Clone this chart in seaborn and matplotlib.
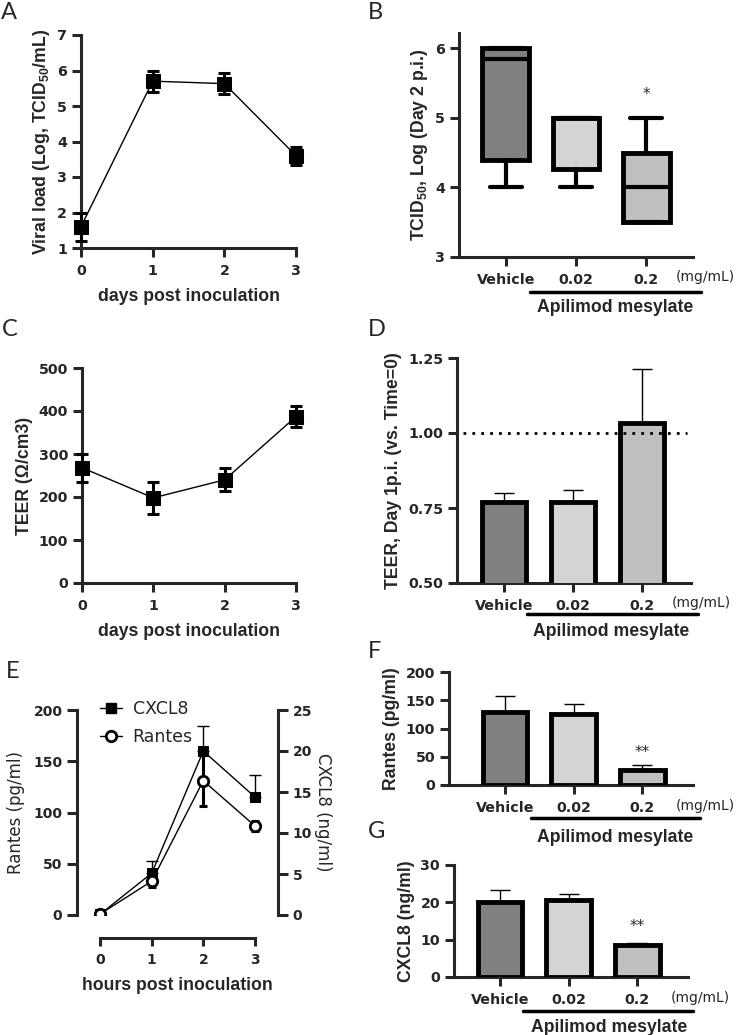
import numpy as np
import matplotlib
matplotlib.use("Agg")
import matplotlib.pyplot as plt
from matplotlib.lines import Line2D
import seaborn as sns

# values
days = [0, 1, 2, 3]
viral_load = [1.6, 5.7, 5.63, 3.6]
viral_sem = [0.4, 0.3, 0.3, 0.25]
teer = [268, 198, 240, 387]
teer_sem = [33, 37, 27, 25]

groups = ["Vehicle", "0.02", "0.2"]
group_colors = ["#808080", "#d4d4d4", "#c0c0c0"]

tcid_q1 = [4.4, 4.27, 3.5]
tcid_med = [5.85, 5.0, 4.0]
tcid_q3 = [6.0, 5.0, 4.5]
tcid_min = [4.0, 4.0, 3.5]
tcid_max = [6.0, 5.0, 5.0]

teer_ratio = [0.77, 0.77, 1.035]
teer_ratio_err = [0.03, 0.04, 0.18]

hours = [0, 1, 2, 3]
rantes_time = [1, 33, 131, 87]
rantes_time_err = [1, 6, 25, 5]
cxcl8_time = [0.1, 5.1, 20.0, 14.4]
cxcl8_time_err = [0.1, 1.5, 3.1, 2.7]

rantes_bar = [130, 125, 27]
rantes_bar_err = [27, 18, 8]
cxcl8_bar = [20.0, 20.5, 8.5]
cxcl8_bar_err = [3.3, 1.6, 0.5]

sns.set_style("ticks")
# tick labels are wide and heavy -> DejaVu bold; axis titles are Arial-like
plt.rcParams["font.family"] = ["DejaVu Sans"]
plt.rcParams["font.weight"] = "bold"
plt.rcParams["axes.labelweight"] = "bold"
plt.rcParams["mathtext.fontset"] = "custom"
plt.rcParams["mathtext.rm"] = "Liberation Sans"
plt.rcParams["mathtext.bf"] = "Liberation Sans:bold"

W, H = 736, 1035
fig = plt.figure(figsize=(W / 100, H / 100), dpi=100)


def box(l, t, r, b):
    return [l / W, 1 - b / H, (r - l) / W, (b - t) / H]


def fx(x):
    return x / W


def fy(y):
    return 1 - y / H


TICK = 10.3
LAB = 12.7
ARIAL = ["Liberation Sans", "DejaVu Sans"]
LETTER = dict(fontsize=17, family=["Lato", "DejaVu Sans"], fontweight="normal",
              va="top", ha="left")


def style(ax, ticklen=6.5):
    sns.despine(ax=ax)
    for s in ["left", "bottom"]:
        ax.spines[s].set_linewidth(2.2)
    ax.tick_params(width=2.2, length=ticklen, labelsize=TICK, direction="out")
    ax.tick_params(axis="x", pad=5)


def line_panel(ax, y, err, ylim, yticks, ylabel):
    ax.errorbar(days, y, yerr=err, fmt="none", ecolor="black", elinewidth=2.2,
                capsize=4.5, capthick=2.2, clip_on=False, zorder=3)
    sns.lineplot(x=days, y=y, ax=ax, color="black", linewidth=1, marker="s",
                 markersize=10, markeredgecolor="black", clip_on=False, zorder=4)
    ax.set_xlim(0, 3)
    ax.set_ylim(*ylim)
    ax.set_xticks(days)
    ax.set_yticks(yticks)
    ax.set_xlabel("days post inoculation", fontsize=LAB, family=ARIAL, labelpad=7)
    ax.set_ylabel(ylabel, fontsize=LAB, family=ARIAL)
    style(ax)


def group_labels(ax, y_tick, x_unit, y_line, x0, x1, y_text, x_text):
    fig.text(fx(x_unit), fy(y_tick), "(mg/mL)", fontsize=10, fontweight="normal",
             ha="center", va="center")
    fig.add_artist(Line2D([fx(x0), fx(x1)], [fy(y_line), fy(y_line)], color="black", lw=2.5))
    fig.text(fx(x_text), fy(y_text), "Apilimod mesylate", fontsize=LAB, family=ARIAL,
             ha="center", va="center")


def bar_panel(ax, vals, errs, ylim, yticks, ylabel, xlim):
    sns.barplot(x=groups, y=vals, hue=groups, palette=group_colors, legend=False,
                edgecolor="black", linewidth=3.5, width=0.65, errorbar=None, ax=ax, zorder=3)
    ax.errorbar(range(3), vals, yerr=[np.zeros(3), errs], fmt="none", ecolor="black",
                elinewidth=1, capsize=7, capthick=1, zorder=2)
    ax.set_xlim(*xlim)
    ax.set_ylim(*ylim)
    ax.set_yticks(yticks)
    ax.set_ylabel(ylabel, fontsize=LAB, family=ARIAL)
    ax.set_xlabel("")
    style(ax)


# ---- A ----
axA = fig.add_axes(box(81, 35, 296, 248))
line_panel(axA, viral_load, viral_sem, (1, 7), range(1, 8),
           r"Viral load (Log, TCID$_{\mathbf{50}}$/mL)")
fig.text(fx(1), fy(2), "A", **LETTER)

# ---- B ----
axB = fig.add_axes(box(459, 33, 693, 257))
stats = []
for i in range(3):
    stats.append(dict(q1=tcid_q1[i], med=tcid_med[i], q3=tcid_q3[i],
                      whislo=tcid_min[i], whishi=tcid_max[i], fliers=[]))
bp = axB.bxp(stats, positions=range(3), widths=0.67, patch_artist=True, showfliers=False,
             boxprops=dict(linewidth=3.5, edgecolor="black"),
             whiskerprops=dict(linewidth=3),
             capprops=dict(linewidth=3),
             medianprops=dict(linewidth=3, color="black"))
for patch, c in zip(bp["boxes"], group_colors):
    patch.set_facecolor(c)
for cap in bp["caps"]:
    m = np.mean(cap.get_xdata())
    cap.set_xdata([m - 0.23, m + 0.23])
axB.set_xlim(-0.67, 2.67)
axB.set_ylim(3, 6.22)
axB.set_yticks([3, 4, 5, 6])
axB.set_xticks(range(3))
axB.set_xticklabels(groups)
axB.set_ylabel(r"TCID$_{\mathbf{50}}$, Log (Day 2 p.i.)", fontsize=LAB, family=ARIAL)
style(axB)
axB.text(2, 5.33, "*", ha="center", va="center", fontsize=11, fontweight="normal")
group_labels(axB, 277, 705, 292, 530, 701, 308, 615)
fig.text(fx(368), fy(2), "B", **LETTER)

# ---- C ----
axC = fig.add_axes(box(82, 368, 296, 583))
line_panel(axC, teer, teer_sem, (0, 500), range(0, 501, 100), "TEER (Ω/cm3)")
fig.text(fx(2), fy(319), "C", **LETTER)

# ---- D ----
axD = fig.add_axes(box(457, 358, 691, 583))
bar_panel(axD, teer_ratio, teer_ratio_err, (0.5, 1.25), [0.5, 0.75, 1.0, 1.25],
          "TEER, Day 1p.i. (vs. Time=0)", (-0.68, 2.71))
axD.yaxis.set_major_formatter(matplotlib.ticker.FormatStrFormatter("%.2f"))
axD.plot([-0.59, 2.65], [1.0, 1.0], color="black", linestyle=(0, (1, 2.2)), linewidth=2, zorder=5)
group_labels(axD, 603, 701, 614, 527, 698, 632, 611)
fig.text(fx(368), fy(319), "D", **LETTER)

# ---- E ----
axE = fig.add_axes(box(77, 710, 278, 915))
axE2 = axE.twinx()
axE2.errorbar(hours, cxcl8_time, yerr=[np.zeros(4), cxcl8_time_err], fmt="none",
              ecolor="black", elinewidth=1, capsize=4, capthick=1, zorder=2)
sns.lineplot(x=hours, y=cxcl8_time, ax=axE2, color="black", linewidth=1, marker="s",
             markersize=6.5, markeredgecolor="black", zorder=3)
axE.errorbar(hours, rantes_time, yerr=rantes_time_err, fmt="none", ecolor="black",
             elinewidth=2.2, capsize=3, capthick=2.2, zorder=2)
sns.lineplot(x=hours, y=rantes_time, ax=axE, color="black", linewidth=1, marker="o",
             markersize=7.5, markerfacecolor="white", markeredgecolor="black",
             markeredgewidth=2, zorder=3)
axE.set_zorder(axE2.get_zorder() + 1)
axE.patch.set_visible(False)
axE.set_xlim(-0.45, 3.45)
axE.set_ylim(0, 200)
axE2.set_ylim(0, 25)
axE.set_yticks(range(0, 201, 50))
axE2.set_yticks(range(0, 26, 5))
axE.set_xticks(hours)
for a in (axE, axE2):
    for s in a.spines.values():
        s.set_linewidth(2.2)
    a.spines["top"].set_visible(False)
    a.tick_params(width=2.2, length=7, labelsize=10)
axE.spines["right"].set_visible(False)
axE2.spines["left"].set_visible(False)
axE2.spines["bottom"].set_visible(False)
axE.spines["bottom"].set_position(("outward", 16.5))
axE.spines["bottom"].set_bounds(0, 3)
axE.tick_params(axis="x", length=6, pad=5)
axE.set_xlabel("hours post inoculation", fontsize=LAB, family=ARIAL, labelpad=7)
axE.set_ylabel("Rantes (pg/ml)", fontsize=12, fontweight="normal", labelpad=6)
axE2.set_ylabel("CXCL8 (ng/ml)", fontsize=12, fontweight="normal",
                rotation=270, labelpad=14)
handles = [Line2D([], [], color="black", lw=1, marker="s", markersize=6.5),
           Line2D([], [], color="black", lw=1, marker="o", markersize=7.5,
                  markerfacecolor="white", markeredgewidth=2)]
fig.legend(handles, ["CXCL8", "Rantes"], loc="upper left",
           bbox_to_anchor=(fx(84), fy(684)), frameon=False, handlelength=1.3,
           handletextpad=0.6, labelspacing=0.6,
           prop=dict(size=12.5, weight="normal"))
fig.text(fx(6), fy(661), "E", **LETTER)

# ---- F ----
axF = fig.add_axes(box(449, 672, 693, 785))
bar_panel(axF, rantes_bar, rantes_bar_err, (0, 200), range(0, 201, 50),
          "Rantes (pg/ml)", (-0.82, 2.74))
axF.text(2, 58, "**", ha="center", va="center", fontsize=11, fontweight="normal")
group_labels(axF, 806, 705, 818, 531, 700, 837, 615)
fig.text(fx(368), fy(641), "F", **LETTER)

# ---- G ----
axG = fig.add_axes(box(454, 865, 688, 977))
bar_panel(axG, cxcl8_bar, cxcl8_bar_err, (0, 30), range(0, 31, 10),
          "CXCL8 (ng/ml)", (-0.67, 2.74))
axG.text(2, 13.5, "**", ha="center", va="center", fontsize=11, fontweight="normal")
group_labels(axG, 998, 700, 1011, 523, 693, 1027, 609)
fig.text(fx(368), fy(821), "G", **LETTER)

fig.savefig("out.png", dpi=100)
